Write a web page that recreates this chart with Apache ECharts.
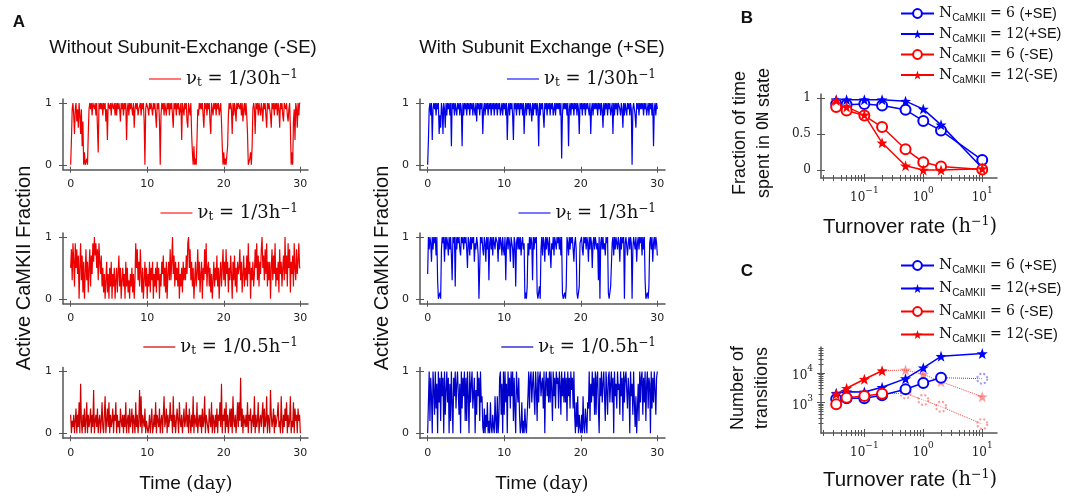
<!DOCTYPE html>
<html><head><meta charset="utf-8">
<script src="https://cdn.jsdelivr.net/npm/echarts@6/dist/echarts.min.js"></script>
<style>html,body{margin:0;padding:0;background:#fff}#c{width:1065px;height:498px}</style>
</head><body><div id="c"></div>
<script>
// ---------- DATA ----------
const dayStep = 0.1;              // sampling of the traces (days)
const dayTicks = [0, 10, 20, 30];
const fracTicks = [0, 1];
const rateLabels = ['1/30', '1/3', '1/0.5'];

// Panel A, -SE traces (10 samples per day)
const traceNoSE30 = [
 0,.4,.9,1,.8,.5,.9,1,.7,.9, .6,1,.8,.5,.9,.3,.7,0,.2,0, 0,.1,0,.5,.9,1,.9,1,.8,1,
 1,.9,1,.8,1,.6,.2,1,.9,1, .9,1,.8,1,.9,1,.7,.9,.4,1, 1,.9,1,.8,1,1,.9,1,.8,1,
 .8,1,.9,1,.9,.7,1,.9,1,.8, 1,.9,1,.4,.9,1,.8,1,.9,1, 1,.8,1,.6,.9,1,.9,1,.8,.9,
 .9,1,.8,1,.9,1,.7,0,.9,1, 1,.9,.8,1,.9,1,.9,.8,1,.9, 1,.8,.6,1,.9,1,.7,0,.8,1,
 .9,1,.8,1,.9,.8,1,.9,1,.8, 1,.9,1,.8,.6,1,.9,1,.8,1, .9,1,.8,.9,1,.4,1,.9,.8,1,
 .9,1,.7,.6,1,.9,.8,1,.5,.2, 0,.3,0,.1,0,.4,.9,.8,1,.9, 1,.9,1,.8,.6,1,.9,1,.8,1,
 .9,1,.7,.5,1,.9,.8,1,.9,1, .8,1,.9,1,.8,.9,1,.7,.3,0, .2,0,.1,0,0,.3,.8,1,.9,1,
 .9,.5,1,.8,1,.9,.7,1,.9,1, 1,.9,1,.8,1,.7,.9,1,.8,1, .8,.5,0,0,.1,.2,0,.3,.9,1,
 .9,.5,1,.9,1,.8,1,.9,.8,1, .9,.7,1,.9,1,.8,.6,1,.9,1, 1,.8,.6,1,.9,1,.8,1,.9,1,
 .8,1,.9,.6,1,.9,1,.8,.7,1, 1,.9,1,.8,.7,.9,1,.6,0,.2, 0,.7,.9,.4,1,.9,.6,1,.8,1,
 1];
const traceNoSE3 = [
 .5,.8,.3,.9,.6,.2,.9,.5,.8,.4, .7,0,.5,.9,.3,.7,.1,.6,0,.4, .8,.3,.6,.1,.5,.8,.2,.7,.4,.9,
 .6,1,.7,.9,.5,.8,.3,.9,.6,.4, .7,.2,.5,.1,.4,0,.3,.6,.1,.4, 0,.5,.2,.6,0,.4,.2,.5,0,.3,
 .5,.1,.4,.7,.2,.5,0,.3,.5,.2, .4,0,.6,.2,.5,.1,.3,0,.4,.2, .5,.1,.4,0,.3,.9,.5,.8,.3,.6,
 .2,.8,.4,.1,.5,0,.3,.6,.2,.5, 0,.4,.2,.6,.1,.5,.3,.6,0,.4, .2,.5,.1,.6,.3,.5,0,.4,.2,.6,
 .4,.7,.2,.5,.1,.6,0,.4,.6,.3, .8,.3,.6,1,.4,.7,.2,.6,.3,.5, .2,.6,0,.4,.2,.5,.1,.6,.3,.5,
 .3,.7,.4,.9,1,.5,.8,.3,.6,.2, .5,0,.3,.6,.2,.4,.8,.3,.6,.1, .4,.6,0,.5,.3,.8,.4,.9,.2,.5,
 .6,.2,.5,.1,.4,0,.3,.6,.2,.5, .3,.7,.2,.5,0,.4,.6,.2,.5,.8, .3,.6,.2,.8,.4,.6,.1,.5,.3,.7,
 .4,0,.6,.3,.7,.2,.5,.1,.6,.4, .5,.8,.3,.6,.1,.4,.7,.2,.5,.3, .7,.2,.9,.4,.6,0,.5,.3,.6,.2,
 .4,.8,.5,.9,.3,.7,.2,.6,.4,.8, 1,.5,.7,.3,.8,.4,.9,.2,.6,.3, .6,0,.5,.8,.3,.7,.4,.9,.2,.5,
 .3,.6,.1,.8,.4,.6,.2,.5,.7,.3, 1,.4,.7,.2,.9,.5,.8,.1,.6,.4, .7,.2,.9,.5,.3,.8,.4,.6,.9,.5,
 .5];
const traceNoSE05 = [
 .3,0,.2,.1,.3,0,.2,.4,0,.3, .1,.5,0,.8,.2,0,.3,.1,.4,0, .2,.5,0,.3,.1,.2,.4,0,.3,.1,
 .7,0,.2,.3,.1,.4,0,.2,.3,0, .2,.5,.1,0,.3,.6,0,.2,.4,.1, .5,0,.3,.1,.2,.4,0,.3,.2,.5,
 0,.3,.1,.2,0,.4,.2,.1,.3,0, .3,.1,.5,0,.2,.3,0,.4,.1,.2, .4,0,.3,.2,0,.5,.1,.3,0,.2,
 .7,.1,.6,0,.3,.2,.1,.4,0,.2, .2,0,.1,.3,0,.2,.4,0,.1,.3, .1,.5,0,.3,.2,.1,.4,0,.2,.3,
 0,.3,.6,.1,.2,.4,0,.3,.1,.2, .5,.2,.3,0,.6,.1,.3,0,.2,.4, .4,0,.5,.2,.1,.3,0,.2,.4,.1,
 .2,.5,.1,.3,0,.4,.2,0,.3,.1, .6,0,.3,.2,.1,.5,0,.2,.3,.1, .3,0,.4,.1,.2,.6,0,.3,.2,.1,
 0,.4,.2,.1,.5,0,.3,.2,0,.3, .1,.4,0,.3,.2,.5,.1,.8,0,.3, .2,.4,0,.5,.1,.3,0,.2,.4,.1,
 .4,0,.6,.2,.1,.3,0,.2,.5,.1, .5,.2,.9,.1,.4,0,.3,.2,.1,.3, .1,.5,0,.3,.2,.4,0,.2,.3,.1,
 .6,0,.3,.1,.2,.5,0,.2,.3,.1, .3,.5,0,.4,.1,.2,.6,0,.3,.2, 0,.7,.3,.1,.2,.4,0,.3,.1,.2,
 .3,.5,.1,.2,0,.6,.2,0,.3,.1, .4,.2,.5,0,.3,.1,.2,.6,0,.2, .1,.5,0,.4,.2,.3,0,.4,.2,.3,
 0];
// Panel A, +SE traces (10 samples per day)
const traceSE30 = [
 0,.4,.9,1,.8,1,.4,.9,1,.9, 1,.8,1,.9,1,.5,.8,.6,1,.9, .5,1,.9,.6,1,.8,1,.9,1,.8,
 1,.3,1,.9,1,.8,1,.9,.8,1, .9,1,.8,1,.9,.3,1,.8,1,.9, 1,.8,1,.9,1,.8,1,.9,1,.8,
 1,.9,.8,1,.7,1,.9,1,.8,1, .9,1,.5,.9,1,.8,1,.9,1,.8, 1,.9,1,.8,1,.9,1,.8,1,.9,
 1,.8,1,.9,1,.8,.9,1,.8,1, .9,1,.8,1,.4,.9,1,.8,1,.9, 1,.8,.4,1,.9,1,.8,1,.9,1,
 .8,1,.9,1,.8,1,.5,.9,1,.8, 1,.9,1,.8,1,.9,.7,1,.8,1, .9,1,.8,1,.9,.3,1,.8,1,.9,
 1,.8,.6,1,.9,1,.8,1,.9,1, .8,1,.9,1,.8,.9,1,.8,1,.9, 1,.9,1,.8,1,.1,.8,1,.9,1,
 .9,1,.8,1,.3,.9,1,.8,1,.9, 1,.8,1,.9,1,.8,1,.9,.5,1, .9,1,.8,1,.9,1,.8,1,.9,1,
 1,.8,1,.5,.9,1,.8,1,.9,1, .9,1,.8,1,.9,1,.8,1,.9,.6, 1,.8,1,.9,1,.8,1,.9,1,.8,
 .9,1,.5,1,.8,1,.9,1,.8,1, 1,.9,.8,1,.9,.6,1,.8,1,.9, .8,1,.9,1,.8,1,.9,0,.9,1,
 1,.8,.6,1,.9,1,.8,1,.9,1, .9,1,.8,1,.9,1,.8,.9,1,.8, 1,.9,1,.8,1,.3,.9,1,.8,1,
 .9];
const traceSE3 = [
 .4,1,.8,1,.9,.6,1,.8,1,.9, 1,.7,1,.3,0,0,.1,0,.8,1, .9,1,.6,1,.8,1,.9,.7,1,.8,
 1,.7,.3,1,.9,1,.2,1,.8,1, .9,1,.8,.7,1,.9,1,.8,1,.9, 1,.8,.5,1,.9,.7,1,.8,1,.9,
 1,.6,.9,.8,1,.9,.7,0,.5,1, .9,1,.8,.7,1,.9,.6,1,.8,1, .3,.9,1,.8,1,.7,1,.9,.8,1,
 1,.9,.6,1,.8,1,.9,.7,1,.8, .7,1,.3,.9,1,.8,1,.9,.6,1, 1,.8,.5,1,.9,.2,.9,1,.8,1,
 .8,1,.7,.9,1,.8,.9,0,.1,0, .2,.9,.7,1,.8,1,.9,.3,1,.8, 1,.9,1,.1,0,0,.2,0,.8,1,
 .7,1,.9,.6,1,.8,1,.9,.7,1, 1,.5,.9,.8,1,.7,1,.9,.8,1, .9,1,.8,1,.7,1,.1,0,0,.1,
 0,.2,1,.9,.7,1,.8,1,.9,1, 1,.6,.9,1,.8,.1,0,0,.2,.9, .9,1,.8,.7,1,.9,1,.8,1,.9,
 .6,1,.8,1,.9,.5,.9,1,.8,1, 1,.8,.9,.3,1,0,.9,1,.8,1, .8,.9,.7,1,.9,1,.1,0,0,.2,
 .2,.9,1,.7,1,.8,1,.9,.8,1, .9,.6,1,.8,1,.9,1,0,.9,1, 1,.7,.9,1,.8,1,.9,0,.8,1,
 .9,.8,1,.6,.9,1,.8,1,.9,1, .7,1,.8,1,.3,0,0,.1,0,.2, .9,1,.8,1,.6,.9,1,.8,1,.9,
 .7];
const traceSE05 = [
 0,.5,1,.2,.9,.6,0,1,.7,.3, 1,.4,.8,0,1,.5,.9,.2,1,.6, .9,0,1,.3,.7,1,.5,.9,0,.8,
 .2,1,.5,0,.9,.6,1,.4,.8,1, 1,.3,.8,0,1,.4,.9,.6,1,.2, .9,.2,1,.6,0,1,.5,.8,1,.4,
 .4,.9,0,.7,.3,1,.6,.9,.2,1, .5,.6,.1,0,.4,0,.3,.1,.5,0, .2,0,.5,.1,0,.3,.1,0,.6,.2,
 0,.6,0,.2,.9,1,.3,.8,0,1, .3,1,.5,.8,0,1,.6,.9,.4,1, .6,1,.2,.9,.4,0,1,.7,.5,.9,
 .3,0,.1,.5,0,.2,0,.4,.1,0, 0,.6,1,.4,.9,1,.5,.8,1,.6, .3,1,.7,.2,1,.5,.9,1,.6,.8,
 .9,.4,1,0,.8,1,.6,.9,.5,1, .5,1,.7,.2,1,.6,.9,.4,1,.8, .9,.4,1,.8,.3,1,.6,.9,.5,1,
 .5,.9,.2,1,.6,.9,.4,1,.7,.9, .4,1,.3,0,.5,.1,.6,0,.3,.1, 0,.3,0,.6,.1,0,.4,.2,0,.5,
 .4,1,.2,.8,.5,1,.6,.9,.3,1, .3,.9,1,.4,0,.9,.6,1,.5,.8, 1,.6,.2,1,.7,.3,.9,1,.5,.8,
 1,.5,.9,0,1,.6,.8,.4,1,.7, .8,.3,1,.6,.9,.2,1,.5,.9,1, 1,.4,.9,.7,0,1,.6,.8,.3,1,
 .5,.1,.6,0,.4,.8,.2,1,.5,.9, 1,.3,.9,.5,1,.2,.8,1,.4,.9, .8,0,1,.4,.9,.5,1,.7,.3,.9,
 1];

// Panels B and C
const turnover = [1/30, 0.05, 0.1, 0.2, 0.5, 1, 2, 10];
const onFracN6SE    = [0.92, 0.91, 0.92, 0.90, 0.84, 0.685, 0.55, 0.14];
const onFracN12SE   = [0.98, 0.98, 0.98, 0.98, 0.96, 0.85, 0.63, 0.03];
const onFracN6noSE  = [0.88, 0.83, 0.76, 0.60, 0.29, 0.11, 0.05, 0.01];
const onFracN12noSE = [0.97, 0.88, 0.77, 0.38, 0.06, 0.00, 0.00, 0.02];
const transN6SE    = [1340, 1410, 1420, 1790, 2860, 4700, 7100, 6600];
const transN12SE   = [2100, 2370, 2330, 3350, 6600, 15500, 38000, 47000];
const transN6noSE  = [880, 1480, 1690, 2030, 2080, 1240, 730, 188];
const transN12noSE = [1980, 3100, 6300, 12300, 13000, 9300, 5200, 1600];
const transSolidCount = [7, 8, 4, 4];   // points drawn solid; the rest dotted (faint)
const fracTicksB = [0, 0.5, 1];
const logMajorX = [0.1, 1, 10];
const logMinorX = [0.02,0.03,0.04,0.05,0.06,0.07,0.08,0.09, 0.2,0.3,0.4,0.5,0.6,0.7,0.8,0.9, 2,3,4,5,6,7,8,9];
const logMajorY = [1000, 10000];
const logMinorY = [200,300,400,500,600,700,800,900, 2000,3000,4000,5000,6000,7000,8000,9000, 20000,30000,40000,50000,60000,70000];
const nLabels = ['6 (+SE)', '12(+SE)', '6 (-SE)', '12(-SE)'];

// ---------- CHART ----------
const AX = '#555';
const tickFont = {fontFamily: 'DejaVu Sans', fontSize: 11, color: '#222'};
const STAR = 'path://M0,-10L2.35,-3.24L9.51,-3.09L3.8,1.24L5.88,8.09L0,4L-5.88,8.09L-3.8,1.24L-9.51,-3.09L-2.35,-3.24Z';
const BLUE = '#0000ff', RED = '#ff0000';

const grids = [], xAxes = [], yAxes = [], series = [], legends = [];
function supLabel(v) {
  const e = Math.round(Math.log10(v));
  return '{b|10}{p|' + (e < 0 ? '\u2212' + (-e) : e) + '}';
}
const supRich = {
  b: {fontFamily: 'DejaVu Serif', fontSize: 12, lineHeight: 18, color: '#222', verticalAlign: 'bottom'},
  p: {fontFamily: 'DejaVu Serif', fontSize: 9, lineHeight: 18, color: '#222', verticalAlign: 'top'}
};

// Panel A grids
const aTraces = [traceNoSE30, traceNoSE3, traceNoSE05, traceSE30, traceSE3, traceSE05];
const aColors = ['#ee0000', '#ee0000', '#cc0000', '#0000ee', '#0000ee', '#0000cc'];
const aLegColors = ['#f77', '#f77', '#e06666', '#77f', '#77f', '#6666e0'];
const aTops = [99, 233, 367.5];
const aLefts = [63, 420];
const aLegRight = [767, 409];
const aLegTop = [69, 203, 337];
aTraces.forEach((tr, k) => {
  const col = Math.floor(k / 3), row = k % 3;
  const g = grids.length;
  grids.push({left: aLefts[col], top: aTops[row], width: 245, height: 70.7});
  const xi = xAxes.length, yi = yAxes.length;
  [false, true].forEach(inside => {
    xAxes.push({type: 'value', gridIndex: g, position: 'bottom', min: -1, max: 31,
      axisLine: {show: !inside, onZero: false, lineStyle: {color: AX, width: 1.5}},
      axisTick: {show: true, inside: inside, length: 3, customValues: dayTicks, lineStyle: {color: AX, width: 1}},
      axisLabel: {show: !inside, customValues: dayTicks, margin: 9, ...tickFont},
      splitLine: {show: false}});
    yAxes.push({type: 'value', gridIndex: g, position: 'left', min: -0.08, max: 1.065,
      axisLine: {show: !inside, onZero: false, lineStyle: {color: AX, width: 1.5}},
      axisTick: {show: true, inside: inside, length: 4, customValues: fracTicks, lineStyle: {color: AX, width: 1}},
      axisLabel: {show: !inside, customValues: fracTicks, margin: 11, ...tickFont},
      splitLine: {show: false}});
  });
  const name = 'trace' + k;
  series.push({type: 'line', name: name, xAxisIndex: xi, yAxisIndex: yi, symbol: 'none',
    lineStyle: {color: aColors[k], width: 1.2}, itemStyle: {color: aColors[k]},
    data: tr.map((v, i) => [i * dayStep, v])});
  legends.push({right: aLegRight[col], top: aLegTop[row], padding: 0, selectedMode: false,
    data: [{name: name, icon: 'rect', itemStyle: {color: aLegColors[k]}}],
    itemWidth: 32, itemHeight: 2,
    formatter: () => '{a|\u03BD}{s|t}{a| = ' + rateLabels[row] + 'h}{p|\u22121}',
    textStyle: {rich: {
      a: {fontFamily: 'DejaVu Serif', fontSize: 18, lineHeight: 20, color: '#111'},
      s: {fontFamily: 'DejaVu Serif', fontSize: 12, lineHeight: 13, color: '#111', verticalAlign: 'bottom'},
      p: {fontFamily: 'DejaVu Serif', fontSize: 12, lineHeight: 13, color: '#111', verticalAlign: 'top'}
    }}});
});

// Panels B, C
function logXAxes(g, minV, maxV) {
  const idx = xAxes.length;
  [[logMajorX, 4, false, true], [logMajorX, 4, true, false], [logMinorX, 3, false, false], [logMinorX, 3, true, false]]
  .forEach(([vals, len, inside, main]) => {
    xAxes.push({type: 'log', gridIndex: g, position: 'bottom', min: minV, max: maxV,
      axisLine: {show: main, onZero: false, lineStyle: {color: AX, width: 1.5}},
      axisTick: {show: true, inside: inside, length: len, customValues: vals, lineStyle: {color: AX, width: 1}},
      axisLabel: {show: main, customValues: logMajorX, margin: 8, formatter: supLabel, rich: supRich},
      splitLine: {show: false}, minorSplitLine: {show: false}});
  });
  return idx;
}
// B
const gB = grids.length;
grids.push({left: 821, top: 94, width: 176, height: 84});
const xB = logXAxes(gB, 0.0184, 17.8);
const yB = yAxes.length;
[false, true].forEach(inside => yAxes.push({type: 'value', gridIndex: gB, position: 'left', min: -0.11, max: 1.06,
  axisLine: {show: !inside, onZero: false, lineStyle: {color: AX, width: 1.5}},
  axisTick: {show: true, inside: inside, length: 4, customValues: fracTicksB, lineStyle: {color: AX, width: 1}},
  axisLabel: {show: !inside, customValues: fracTicksB, margin: 10, fontFamily: 'DejaVu Serif', fontSize: 12, color: '#222'},
  splitLine: {show: false}}));
// C
const gC = grids.length;
grids.push({left: 821, top: 347, width: 176, height: 86});
const xC = logXAxes(gC, 0.0184, 17.8);
const yC = yAxes.length;
[[logMajorY, 4, false, true], [logMajorY, 4, true, false], [logMinorY, 2.5, false, false], [logMinorY, 2.5, true, false]]
.forEach(([vals, len, inside, main]) => yAxes.push({type: 'log', gridIndex: gC, position: 'left', min: 93, max: 79000,
  axisLine: {show: main, onZero: false, lineStyle: {color: AX, width: 1.5}},
  axisTick: {show: true, inside: inside, length: len, customValues: vals, lineStyle: {color: AX, width: 1}},
  axisLabel: {show: main, customValues: logMajorY, margin: 8, formatter: supLabel, rich: supRich},
  splitLine: {show: false}}));

const bcNames = ['N6SE', 'N12SE', 'N6noSE', 'N12noSE'];
const bcColors = [BLUE, BLUE, RED, RED];
const bcSymbols = ['emptyCircle', STAR, 'emptyCircle', STAR];
const bcSizes = [10, 11, 10, 11];
const onFrac = [onFracN6SE, onFracN12SE, onFracN6noSE, onFracN12noSE];
const trans = [transN6SE, transN12SE, transN6noSE, transN12noSE];
bcNames.forEach((nm, k) => {
  const mk = () => ({type: 'line', name: nm, symbol: bcSymbols[k], symbolSize: bcSizes[k],
    lineStyle: {color: bcColors[k], width: 1.5},
    itemStyle: {color: bcColors[k], borderWidth: 1.5}, z: 3});
  series.push({...mk(), xAxisIndex: xB, yAxisIndex: yB, data: turnover.map((x, i) => [x, onFrac[k][i]])});
  const n = transSolidCount[k];
  series.push({...mk(), xAxisIndex: xC, yAxisIndex: yC, data: turnover.slice(0, n).map((x, i) => [x, trans[k][i]])});
  if (n < turnover.length) {
    series.push({type: 'line', name: nm + '_dot', xAxisIndex: xC, yAxisIndex: yC, z: 2,
      symbol: bcSymbols[k], symbolSize: bcSizes[k],
      lineStyle: {color: bcColors[k], width: 1, type: 'dotted', opacity: 0.75},
      itemStyle: {color: bcColors[k], borderWidth: 1, borderType: 'dotted', opacity: 0.4},
      data: turnover.slice(n - 1).map((x, j) => j === 0
        ? {value: [x, trans[k][n - 1 + j]], symbol: 'none'}
        : [x, trans[k][n - 1 + j]])});
  }
});
const nRich = {
  n: {fontFamily: 'DejaVu Serif', fontSize: 15, lineHeight: 20, color: '#111'},
  s: {fontFamily: 'Liberation Sans', fontSize: 10, lineHeight: 13, color: '#111', verticalAlign: 'bottom'},
  e: {fontFamily: 'DejaVu Serif', fontSize: 14, lineHeight: 20, color: '#111'},
  t: {fontFamily: 'Liberation Sans', fontSize: 14.5, lineHeight: 20, color: '#111'}
};
function nFormatter(name) {
  const lab = nLabels[bcNames.indexOf(name)];
  const num = lab.slice(0, lab.indexOf('('));
  const rest = lab.slice(lab.indexOf('('));
  return '{n|N}{s|CaMKII}{e| = ' + num + '}{t|' + rest + '}';
}
[[6, 3], [258, 5.5]].forEach(([top, gap]) => legends.push({left: 900, top: top, orient: 'vertical', padding: 0,
  itemGap: gap, itemWidth: 33, itemHeight: 11, selectedMode: false, data: bcNames,
  formatter: nFormatter, textStyle: {rich: nRich}}));

// texts
const sans = 'Liberation Sans';
const mathRich = {
  a: {fontFamily: sans, fontSize: 19, color: '#111', lineHeight: 24},
  b: {fontFamily: 'DejaVu Serif', fontSize: 18, color: '#111', lineHeight: 24},
  p: {fontFamily: 'DejaVu Serif', fontSize: 11.5, color: '#111', lineHeight: 24, verticalAlign: 'top'},
  m: {fontFamily: 'DejaVu Sans Mono', fontSize: 15, color: '#111', lineHeight: 24}
};
const ylabRich = Object.assign({}, mathRich, {a: {fontFamily: sans, fontSize: 18, color: '#111', lineHeight: 24}});
const tRich = Object.assign({}, mathRich, {a: {fontFamily: sans, fontSize: 20.5, color: '#111', lineHeight: 24},
  b: {fontFamily: 'DejaVu Serif', fontSize: 19.5, color: '#111', lineHeight: 24},
  p: {fontFamily: 'DejaVu Serif', fontSize: 12.5, color: '#111', lineHeight: 24, verticalAlign: 'top'}});
function txt(x, y, text, opts) {
  return Object.assign({type: 'text', x: x, y: y, silent: true,
    style: Object.assign({text: text, fill: '#111', fontFamily: sans, fontSize: 17, align: 'center', verticalAlign: 'middle'}, opts || {})});
}
const graphic = [
  txt(19, 22, 'A', {fontWeight: 'bold', fontSize: 17}),
  txt(747, 18, 'B', {fontWeight: 'bold', fontSize: 17}),
  txt(747, 271, 'C', {fontWeight: 'bold', fontSize: 17}),
  txt(183, 48, 'Without Subunit-Exchange (-SE)', {fontSize: 18.5}),
  txt(542, 48, 'With Subunit Exchange (+SE)', {fontSize: 18.5}),
  Object.assign(txt(24, 268, 'Active CaMKII Fraction', {fontSize: 20}), {rotation: Math.PI / 2}),
  Object.assign(txt(382, 268, 'Active CaMKII Fraction', {fontSize: 20}), {rotation: Math.PI / 2}),
  txt(186, 484, '{a|Time }{b|(day)}', {rich: mathRich}),
  txt(542, 484, '{a|Time }{b|(day)}', {rich: mathRich}),
  txt(910, 227, '{a|Turnover rate }{b|(h}{p|\u22121}{b|)}', {rich: tRich}),
  txt(910, 480, '{a|Turnover rate }{b|(h}{p|\u22121}{b|)}', {rich: tRich}),
  Object.assign(txt(752, 133, '{a|Fraction of time}\n{a|spent in }{m|ON}{a| state}', {rich: ylabRich}), {rotation: Math.PI / 2}),
  Object.assign(txt(750, 388, '{a|Number of}\n{a|transitions}', {rich: ylabRich}), {rotation: Math.PI / 2})
];

const chart = echarts.init(document.getElementById('c'), null, {renderer: 'canvas'});
chart.setOption({
  animation: false, backgroundColor: '#fff',
  grid: grids, xAxis: xAxes, yAxis: yAxes, series: series, legend: legends, graphic: graphic
});
</script></body></html>
